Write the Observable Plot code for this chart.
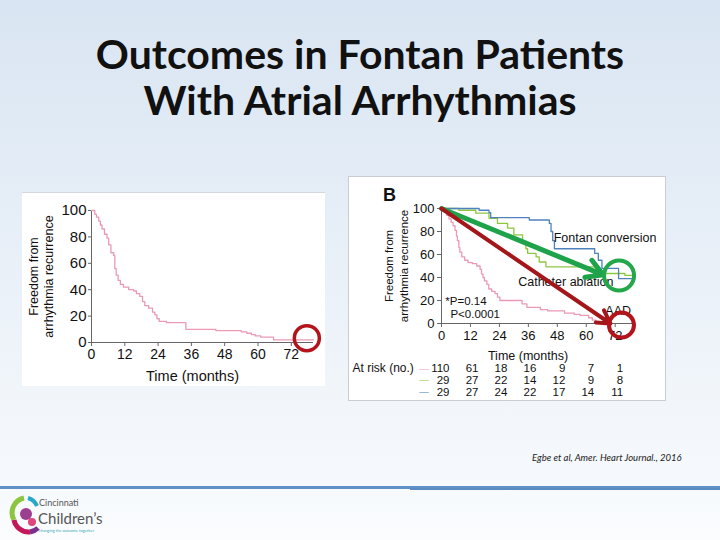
<!DOCTYPE html>
<html>
<head>
<meta charset="utf-8">
<script src="https://cdn.jsdelivr.net/npm/d3@7"></script>
<script src="https://cdn.jsdelivr.net/npm/@observablehq/plot@0.6"></script>
<style>
  html, body { margin: 0; padding: 0; }
  body {
    width: 720px; height: 540px; position: relative; overflow: hidden;
    background: linear-gradient(#d9e5f2 0%, #e6eef7 40%, #f3f7fb 80%, #fafcfe 100%);
    font-family: Lato, "Open Sans", sans-serif;
  }
  #title {
    position: absolute; left: 0; top: 31px; width: 720px; text-align: center;
    font: 700 41px/46px Lato, sans-serif; color: #111;
  }
  #left { position: absolute; left: 22px; top: 192px; border-top: 1px solid #d4d8dd; }
  #right { position: absolute; left: 348px; top: 176px; border: 1px solid #c9cdd2; }
  #left svg, #right svg { display: block; }
  #cite {
    position: absolute; left: 532px; top: 452px;
    font: italic 9.5px Lato, sans-serif; color: #222;
  }
  #rule { position: absolute; left: 0; top: 486px; width: 720px; height: 3px; background: #5f90c6; }
  #rule2 { position: absolute; left: 410px; top: 488px; width: 310px; height: 2px; background: #5a8cc2; }
  #logo { position: absolute; left: 8px; top: 492px; }
</style>
</head>
<body>
<div id="title">Outcomes in Fontan Patients<br>With Atrial Arrhythmias</div>
<div id="left"></div>
<div id="right"></div>
<div id="cite">Egbe et al, Amer. Heart Journal., 2016</div>
<div id="rule"></div>
<div id="rule2"></div>
<svg id="logo" width="120" height="44" viewBox="0 0 120 44">
  <path d="M16 6 A15 15 0 0 0 6 28" fill="none" stroke="#8cc63f" stroke-width="5"/>
  <path d="M6 28 A15 15 0 0 0 22 40" fill="none" stroke="#c2185b" stroke-width="5"/>
  <path d="M22 40 A15 15 0 0 0 30 36" fill="none" stroke="#7b2d8e" stroke-width="5"/>
  <path d="M20 6 A14 14 0 0 1 29 14" fill="none" stroke="#29a9c9" stroke-width="4"/>
  <circle cx="18" cy="22" r="6" fill="#9b3f8f"/>
  <circle cx="24" cy="30" r="4" fill="#e0457b"/>
  <text x="31" y="14" font-family="Lato, sans-serif" font-size="9" fill="#555">Cincinnati</text>
  <text x="30" y="32" font-family="Lato, sans-serif" font-size="15" fill="#555">Children’s</text>
  <text x="31" y="40" font-family="Lato, sans-serif" font-size="4" fill="#3aa6b9">changing the outcome together</text>
</svg>
<script>
// Follow-up time axis (months) and survival axis (%)
const monthTicks = [0, 12, 24, 36, 48, 60, 72];
const survTicks = [0, 20, 40, 60, 80, 100];

// Panel A: all patients, freedom from arrhythmia recurrence (step times, %)
const allTime = [0, 1.2, 1.8, 2.6, 3.2, 3.8, 4.7, 5.6, 6.2, 7.0, 8.0, 8.4, 8.9, 9.6, 10.4, 11.5, 13.4, 15.2, 16.2, 17.4, 18.4, 19.2, 20.6, 22.0, 22.8, 23.6, 24.4, 27.0, 34.0, 44.8, 54.0, 56.0, 57.6, 59.0, 61.0, 65.6, 80];
const allSurv = [100, 97, 95, 92, 89, 86, 82, 79, 74, 68, 66, 56, 51, 47, 44, 42, 40, 39, 37, 35, 31, 28, 26, 23, 21, 18, 16, 15, 10, 9, 8, 7, 6, 5, 4, 2, 2];

// Panel B: by treatment strategy
const aadTime = [0, 1.2, 2.2, 3.1, 4.0, 4.8, 5.6, 6.2, 6.6, 7.2, 7.6, 8.4, 9.6, 11, 12.8, 14.6, 16, 16.6, 17.2, 17.8, 18.8, 19.6, 20.8, 22.2, 23.2, 24.2, 33.4, 35.4, 41, 44, 51, 55, 57.5, 61, 62.5, 64, 66, 68];
const aadSurv = [100, 97, 94, 91, 88, 85, 81, 76, 72, 66, 62, 58, 55, 53, 52, 50, 47, 43, 40, 37, 34, 30, 28, 26, 23, 20, 17, 14, 12, 11, 9, 8, 7, 5, 3, 1, 0, 0];
const ablTime = [0, 7.2, 14.2, 19.7, 23.2, 27.4, 30, 33.6, 35, 35.7, 39.2, 40.5, 43.3, 65, 76, 80];
const ablSurv = [100, 98.5, 96, 91.5, 87, 83, 77, 71, 65, 61, 58, 53.5, 49.3, 43.5, 41.8, 41.8];
const fcTime = [0, 15.6, 19.7, 20.4, 36.4, 44.7, 45.4, 46.1, 46.8, 63.5, 65, 66.5, 73.4, 80];
const fcSurv = [100, 98.5, 96.5, 92, 90, 87, 80, 72, 65, 61, 55, 48, 39, 39];

// Numbers at risk at each tick month
const riskAAD = [110, 61, 18, 16, 9, 7, 1];
const riskAblation = [29, 27, 22, 14, 12, 9, 8];
const riskFontan = [29, 27, 24, 22, 17, 14, 11];

const pink = "#ea9ab4", green = "#8dc63f", blue = "#4f81bd";
const arrowGreen = "#1ea34b", arrowRed = "#a3161a";

const zip = (ts, ss) => ts.map((t, i) => ({t, s: ss[i]}));

const axisStyle = {fontFamily: "'Liberation Sans', Arial, sans-serif", color: "#111", background: "white", overflow: "visible"};

// ---------- Panel A ----------
const left = Plot.plot({
  width: 303, height: 193,
  marginLeft: 69, marginRight: 12, marginTop: 17, marginBottom: 44,
  style: {...axisStyle, fontSize: "14px"},
  x: {domain: [0, 80]},
  y: {domain: [0, 100]},
  marks: [
    Plot.axisY({ticks: survTicks, tickSize: 3, tickPadding: 2, fontSize: 15, label: null, stroke: "#666"}),
    Plot.axisX({ticks: monthTicks, tickSize: 4, tickPadding: 3, fontSize: 14, label: null, stroke: "#666"}),
    Plot.ruleX([0], {stroke: "#666"}),
    Plot.ruleY([0], {stroke: "#666"}),
    Plot.line(zip(allTime, allSurv), {x: "t", y: "s", curve: "step-after", stroke: pink, strokeWidth: 1.3}),
    Plot.text(["Freedom from\narrhythmia recurrence"], {frameAnchor: "left", textAnchor: "middle", lineAnchor: "middle", dx: -51, rotate: -90, fontSize: 12.5, lineHeight: 1.2}),
    Plot.text(["Time (months)"], {frameAnchor: "bottom", lineAnchor: "middle", dx: -10, dy: 34, fontSize: 14.5}),
    Plot.dot([{t: 77.6, s: 3.3}], {x: "t", y: "s", r: 12.5, stroke: "#b3141b", strokeWidth: 3.5, fill: "none"})
  ]
});
document.getElementById("left").append(left);

// ---------- Panel B ----------
const riskRows = [
  {counts: riskAAD, color: pink},
  {counts: riskAblation, color: green},
  {counts: riskFontan, color: blue}
];

const curves = [
  {data: zip(aadTime, aadSurv), color: pink},
  {data: zip(ablTime, ablSurv), color: green},
  {data: zip(fcTime, fcSurv), color: blue}
];

const labels = [
  {t: 46.5, s: 74.3, text: "Fontan conversion"},
  {t: 31.8, s: 36.5, text: "Catheter ablation"},
  {t: 67.9, s: 11, text: "AAD"}
];

const stats = [
  {t: 1.6, s: 19.6, text: "*P=0.14"},
  {t: 3.7, s: 8.2, text: "P<0.0001"}
];

const arrows = [
  {t1: 0, s1: 100, t2: 67, s2: 42.3, color: arrowGreen, w: 5},
  {t1: 0, s1: 100, t2: 70, s2: 0, color: arrowRed, w: 4}
];

const rings = [
  {t: 73.6, s: 41.7, color: "#22a84a", r: 15},
  {t: 74.6, s: -1.4, color: "#b3141b", r: 12.5}
];

const right = Plot.plot({
  width: 316, height: 223,
  marginLeft: 92, marginRight: 31, marginTop: 31, marginBottom: 77,
  style: {...axisStyle, fontSize: "13px"},
  x: {domain: [0, 80]},
  y: {domain: [0, 100]},
  marks: [
    Plot.axisY({ticks: survTicks, tickSize: 4, tickPadding: 3, fontSize: 13, label: null, stroke: "#666"}),
    Plot.axisX({ticks: monthTicks, tickSize: 4, tickPadding: 3, fontSize: 13, label: null, stroke: "#666"}),
    Plot.ruleX([0], {stroke: "#666"}),
    Plot.ruleY([0], {stroke: "#666"}),
    ...curves.map(c => Plot.line(c.data, {x: "t", y: "s", curve: "step-after", stroke: c.color, strokeWidth: 1.3})),
    Plot.text(labels, {x: "t", y: "s", text: "text", textAnchor: "start", fontSize: 12.5}),
    Plot.text(stats, {x: "t", y: "s", text: "text", textAnchor: "start", fontSize: 11.5}),
    Plot.text(["B"], {frameAnchor: "top-left", textAnchor: "middle", lineAnchor: "middle", dx: -52, dy: -13, fontSize: 18, fontWeight: "bold"}),
    Plot.text(["Freedom from\narrhythmia recurrence"], {frameAnchor: "left", textAnchor: "middle", lineAnchor: "middle", dx: -46, rotate: -90, fontSize: 11.5, lineHeight: 1.3}),
    Plot.text(["Time (months)"], {frameAnchor: "bottom", lineAnchor: "middle", dx: -10, dy: 32, fontSize: 12.5}),
    Plot.text(["At risk (no.)"], {frameAnchor: "bottom-left", textAnchor: "start", lineAnchor: "middle", dx: -89, dy: 45, fontSize: 12}),
    ...riskRows.map((row, i) => Plot.text(["—"], {frameAnchor: "bottom-left", textAnchor: "middle", lineAnchor: "middle", dx: -17.5, dy: 45 + i * 11.7, fill: row.color, fontSize: 9.5})),
    ...riskRows.map((row, i) => Plot.text(monthTicks.map((m, j) => ({t: m, n: row.counts[j]})), {
      x: "t", text: d => String(d.n), frameAnchor: "bottom", textAnchor: "end", lineAnchor: "middle", dx: 8, dy: 45 + i * 11.7, fontSize: 11.5
    })),
    ...arrows.map(a => Plot.arrow([a], {x1: "t1", y1: "s1", x2: "t2", y2: "s2", stroke: a.color, strokeWidth: a.w, headLength: 5.5})),
    ...rings.map(c => Plot.dot([c], {x: "t", y: "s", r: c.r, stroke: c.color, strokeWidth: 4, fill: "none"}))
  ]
});
document.getElementById("right").append(right);
</script>
</body>
</html>
